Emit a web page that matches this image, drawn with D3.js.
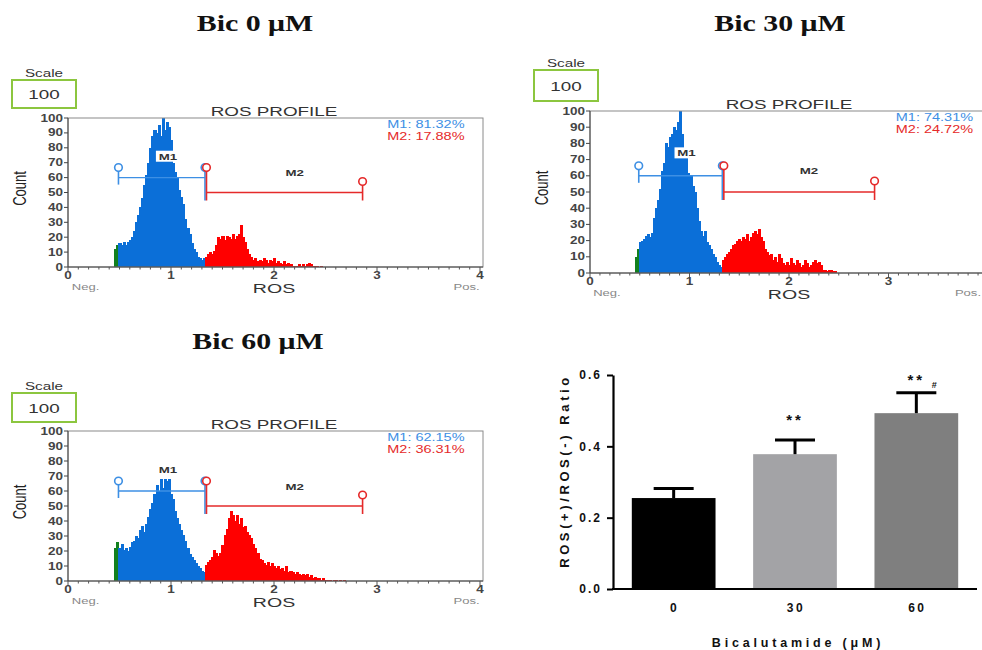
<!DOCTYPE html>
<html>
<head>
<meta charset="utf-8">
<script src="https://d3js.org/d3.v7.min.js"></script>
<style>
    body { margin: 0; background: #fff; }
    text { font-family: "Liberation Sans", Arial, sans-serif; }
</style>
</head>
<body>
<div id="fig"></div>
<script>
// ---------- data ----------
// histogram bins (ROS units), counts
var binStart = 0.45, binWidth = 0.02;

var counts0 = [12,15,
    16,15,17,15,17,18,20,24,30,35,40,46,55,62,70,80,88,92,90,95,88,100,92,97,94,85,70,64,60,52,47,42,32,26,22,16,12,10,7,6,5,6,
    7,9,10,9,11,15,20,19,21,18,21,20,19,22,19,21,22,28,20,17,12,9,7,5,6,4,5,4,6,5,3,5,4,6,3,4,3,2,4,2,3,2,1,1,1,2,1,2,1,2,3,2,1,1,1,0,1,0];

var counts30 = [10,15,
    19,20,21,23,24,22,25,34,40,45,52,63,68,80,78,84,86,90,88,93,100,86,76,72,62,58,60,54,50,40,32,26,23,26,19,17,15,12,10,7,5,4,
    8,10,12,13,15,17,18,20,21,20,22,21,24,20,22,25,26,24,27,22,20,15,13,11,12,8,10,7,12,9,6,5,7,5,9,6,5,8,6,4,5,8,6,4,5,7,8,6,7,5,2,2,1,2,2,1,1,0];

var counts60 = [22,26,
    22,25,21,22,20,23,26,27,30,29,34,37,33,38,43,48,52,58,64,60,68,62,68,67,68,58,55,47,42,38,34,31,27,22,18,16,14,12,10,9,7,6,
    11,13,14,16,21,19,17,19,24,31,35,42,47,44,40,44,38,42,36,37,33,31,29,25,22,19,15,14,12,11,13,10,12,10,9,10,8,9,7,10,6,7,6,5,6,5,4,5,4,5,3,4,2,3,2,2,1,2,1,1,1,0,1,1,0,1,0,1];

var gateNames = ["M1", "M2"];
var gateFrom = [0.49, 1.33];
var gateTo = [1.33, 2.86];
var gateLevel = [60, 50];
var pct0 = [81.32, 17.88];
var pct30 = [74.31, 24.72];
var pct60 = [62.15, 36.31];

var yTicksHist = d3.range(0, 101, 10);
var xTicksHist = [0, 1, 2, 3, 4];

// bar chart
var doses = ["0", "30", "60"];
var ratioMean = [0.255, 0.378, 0.493];
var ratioSem = [0.027, 0.040, 0.057];
var sigText = ["", "**", "**"];
var sigHash = ["", "", "#"];
var sigAt = [0, 0.478, 0.59];
var ratioTicks = [0, 0.2, 0.4, 0.6];

// ---------- drawing ----------
var W = 982, H = 650, SX = 1.45;
var cGreen = "#12801f", cBlue = "#0b6fd8", cRed = "#ff0000";
var mBlue = "#3d8fe4", mRed = "#e52a2a";

var svg = d3.select("#fig").append("svg")
    .attr("width", W).attr("height", H);

function label(g, x, y, str, o) {
    o = o || {};
    return g.append("text")
        .attr("transform", "translate(" + x + "," + y + ") scale(" + (o.sx || SX) + ",1)")
        .attr("text-anchor", o.anchor || "middle")
        .attr("font-size", o.size || 10)
        .attr("font-weight", o.weight || "normal")
        .attr("fill", o.fill || "#333")
        .text(str);
}

function drawHist(p) {
    var g = svg.append("g");
    var x = d3.scaleLinear().domain([0, 4]).range([p.left, p.x4]);
    var y = d3.scaleLinear().domain([0, 100]).range([p.bottom, p.top]);

    // panel title
    g.append("text")
        .attr("transform", "translate(" + p.tx + "," + p.ty + ") scale(1.3,1)")
        .attr("text-anchor", "middle")
        .style("font-family", "'Liberation Serif', 'Times New Roman', serif")
        .attr("font-weight", "bold")
        .attr("font-size", 23)
        .attr("fill", "#111")
        .text(p.title);

    // scale box
    label(g, p.bx + 32, p.by - 3, "Scale", {size: 10.5});
    g.append("rect")
        .attr("x", p.bx).attr("y", p.by)
        .attr("width", 64).attr("height", p.bh)
        .attr("fill", "none").attr("stroke", "#8cc63f").attr("stroke-width", 2);
    label(g, p.bx + 32, p.by + p.bh / 2 + 5, "100", {size: 13});

    label(g, x(2), p.top - 2, "ROS PROFILE", {size: 13});

    // histogram
    var clipId = "clip" + p.id;
    g.append("clipPath").attr("id", clipId)
        .append("rect").attr("x", p.left).attr("y", p.top)
        .attr("width", p.right - p.left).attr("height", p.bottom - p.top);

    var bins = p.counts.map(function (c, i) {
        var s = binStart + i * binWidth;
        return {x0: s, x1: s + binWidth, c: c};
    });
    g.append("g").attr("clip-path", "url(#" + clipId + ")")
        .attr("shape-rendering", "crispEdges")
        .selectAll("rect").data(bins).enter().append("rect")
        .attr("x", function (d) { return x(d.x0); })
        .attr("width", function (d) { return x(d.x1) - x(d.x0) + 1; })
        .attr("y", function (d) { return y(d.c); })
        .attr("height", function (d) { return y(0) - y(d.c); })
        .attr("fill", function (d) {
            var mid = (d.x0 + d.x1) / 2;
            if (mid < gateFrom[0]) return cGreen;
            if (mid < gateFrom[1]) return cBlue;
            return cRed;
        });

    // frame
    g.append("rect")
        .attr("x", p.left).attr("y", p.top)
        .attr("width", p.right - p.left).attr("height", p.bottom - p.top)
        .attr("fill", "none").attr("stroke", "#8a8a8a").attr("stroke-width", 1);

    // y axis
    g.append("line").attr("x1", p.left).attr("x2", p.left)
        .attr("y1", p.top).attr("y2", p.bottom).attr("stroke", "#444");
    yTicksHist.forEach(function (t) {
        g.append("line").attr("x1", p.left - 4).attr("x2", p.left)
            .attr("y1", y(t)).attr("y2", y(t)).attr("stroke", "#444");
        label(g, p.left - 5, y(t) + 3.5, t, {size: 10, anchor: "end", weight: "bold", fill: "#444", sx: 1.35});
    });

    // x axis
    g.append("line").attr("x1", p.left).attr("x2", p.right)
        .attr("y1", p.bottom).attr("y2", p.bottom).attr("stroke", "#444");
    d3.range(0, 40.5, 1).forEach(function (k) {
        var v = k / 10, major = k % 10 === 0;
        g.append("line").attr("x1", x(v)).attr("x2", x(v))
            .attr("y1", p.bottom).attr("y2", p.bottom + (major ? 5 : 2.5))
            .attr("stroke", "#555");
    });
    xTicksHist.forEach(function (t) {
        if (x(t) < W - 6) {
            label(g, x(t), p.bottom + 12, t, {size: 10, weight: "bold", fill: "#444", sx: 1.35});
        }
    });
    label(g, x(0.17), p.bottom + 23, "Neg.", {size: 9, fill: "#888"});
    label(g, Math.min(x(3.86) + 14, W - 1), p.bottom + 23, "Pos.", {size: 9, fill: "#888", anchor: "end"});
    label(g, x(2), p.bottom + 26, "ROS", {size: 13.5});

    g.append("text")
        .attr("transform", "translate(" + (p.left - 42) + "," + ((p.top + p.bottom) / 2 - 4) + ") rotate(-90) scale(1,1.45)")
        .attr("text-anchor", "middle")
        .attr("font-size", 13)
        .attr("fill", "#222")
        .text("Count");

    // gate percentages
    gateNames.forEach(function (n, i) {
        label(g, x(3.85), p.top + 10 + i * 12, n + ": " + p.pct[i].toFixed(2) + "%",
            {size: 10, anchor: "end", fill: i === 0 ? mBlue : mRed});
    });

    // gate markers
    var lv0 = y(gateLevel[0]), lv1 = y(gateLevel[1]);
    function marker(xp, y1, y2, col, cy) {
        g.append("line").attr("x1", xp).attr("x2", xp).attr("y1", y1).attr("y2", y2)
            .attr("stroke", col).attr("stroke-width", 1.6);
        g.append("circle").attr("cx", xp).attr("cy", cy).attr("r", 3.8)
            .attr("fill", "#fff").attr("stroke", col).attr("stroke-width", 1.6);
    }
    // M1
    g.append("line").attr("x1", x(gateFrom[0])).attr("x2", x(gateTo[0]))
        .attr("y1", lv0).attr("y2", lv0).attr("stroke", mBlue).attr("stroke-width", 1.4);
    marker(x(gateFrom[0]), lv0 - 6, lv0 + 7, mBlue, lv0 - 10);
    marker(x(gateTo[0]), lv0 - 6, lv1 + 8, mBlue, lv0 - 10);
    // M2
    g.append("line").attr("x1", x(gateFrom[1]) + 1.5).attr("x2", x(gateTo[1]))
        .attr("y1", lv1).attr("y2", lv1).attr("stroke", mRed).attr("stroke-width", 1.4);
    marker(x(gateFrom[1]) + 1.5, lv0 - 6, lv1 + 8, mRed, lv0 - 10);
    marker(x(gateTo[1]), lv1 - 8, lv1 + 8, mRed, lv1 - 11);

    // gate names
    var m1x = x(0.97), m1y = y(72);
    g.append("rect").attr("x", m1x - 12).attr("y", m1y - 9).attr("width", 24).attr("height", 11).attr("fill", "#fff");
    label(g, m1x, m1y, gateNames[0], {size: 9.5, weight: "bold", fill: "#333", sx: 1.4});
    label(g, x(2.2), y(61), gateNames[1], {size: 9.5, weight: "bold", fill: "#333", sx: 1.4});
}

drawHist({id: 0, title: "Bic 0 \u03BCM", tx: 255, ty: 31, bx: 12, by: 80, bh: 28,
    left: 68, top: 118, bottom: 267, x4: 480, right: 483, counts: counts0, pct: pct0});
drawHist({id: 1, title: "Bic 30 \u03BCM", tx: 780, ty: 31, bx: 534, by: 70, bh: 31,
    left: 590, top: 111, bottom: 273, x4: 988, right: 992, counts: counts30, pct: pct30});
drawHist({id: 2, title: "Bic 60 \u03BCM", tx: 258, ty: 349, bx: 12, by: 393, bh: 29,
    left: 68, top: 431, bottom: 581, x4: 480, right: 483, counts: counts60, pct: pct60});

// ---------- bar chart ----------
var bar = svg.append("g");
var bx = d3.scaleBand().domain(doses).range([613, 977]).paddingInner(0.31).paddingOuter(0.155);
var by = d3.scaleLinear().domain([0, 0.6]).range([589, 375]);
var barFill = ["#000000", "#a3a3a6", "#7f7f7f"];

bar.selectAll(".bar").data(doses).enter().append("rect")
    .attr("x", function (d) { return bx(d); })
    .attr("width", bx.bandwidth())
    .attr("y", function (d, i) { return by(ratioMean[i]); })
    .attr("height", function (d, i) { return by(0) - by(ratioMean[i]); })
    .attr("fill", function (d, i) { return barFill[i]; });

doses.forEach(function (d, i) {
    var cx = bx(d) + bx.bandwidth() / 2;
    var top = by(ratioMean[i] + ratioSem[i]);
    bar.append("line").attr("x1", cx).attr("x2", cx)
        .attr("y1", by(ratioMean[i])).attr("y2", top)
        .attr("stroke", "#000").attr("stroke-width", 3);
    bar.append("line").attr("x1", cx - 20).attr("x2", cx + 20)
        .attr("y1", top).attr("y2", top)
        .attr("stroke", "#000").attr("stroke-width", 3);
    if (sigText[i]) {
        bar.append("text").attr("x", cx).attr("y", by(sigAt[i]) + 6)
            .attr("text-anchor", "middle").attr("font-size", 15).attr("font-weight", "bold")
            .attr("letter-spacing", 3).attr("fill", "#111").text(sigText[i]);
    }
    if (sigHash[i]) {
        bar.append("text").attr("x", cx + 18).attr("y", by(sigAt[i]) + 9)
            .attr("text-anchor", "middle").attr("font-size", 9).attr("font-weight", "bold")
            .attr("fill", "#111").text(sigHash[i]);
    }
    bar.append("text").attr("x", cx + 1).attr("y", 612)
        .attr("text-anchor", "middle").attr("font-size", 12).attr("font-weight", "bold")
        .attr("letter-spacing", 2.5).attr("fill", "#111").text(d);
});

var yAx = bar.append("g").attr("transform", "translate(613,0)")
    .call(d3.axisLeft(by).tickValues(ratioTicks).tickFormat(d3.format(".1f")).tickSize(6).tickSizeOuter(0));
yAx.select(".domain").attr("stroke-width", 2.2);
yAx.selectAll(".tick line").attr("stroke-width", 2);
yAx.selectAll(".tick text")
    .style("font-family", "'Liberation Sans', Arial, sans-serif")
    .attr("font-size", 12).attr("font-weight", "bold")
    .attr("letter-spacing", 2).attr("fill", "#111").attr("dx", "-2");

bar.append("line").attr("x1", 612).attr("x2", 977)
    .attr("y1", 589).attr("y2", 589).attr("stroke", "#000").attr("stroke-width", 2.2);

bar.append("text")
    .attr("transform", "translate(569,471) rotate(-90)")
    .attr("text-anchor", "middle").attr("font-size", 13).attr("font-weight", "bold")
    .attr("letter-spacing", 3.6).attr("fill", "#111")
    .text("ROS(+)/ROS(-) Ratio");

bar.append("text").attr("x", 798).attr("y", 647)
    .attr("text-anchor", "middle").attr("font-size", 12.5).attr("font-weight", "bold")
    .attr("letter-spacing", 3.8).attr("fill", "#111")
    .text("Bicalutamide (\u03BCM)");
</script>
</body>
</html>
